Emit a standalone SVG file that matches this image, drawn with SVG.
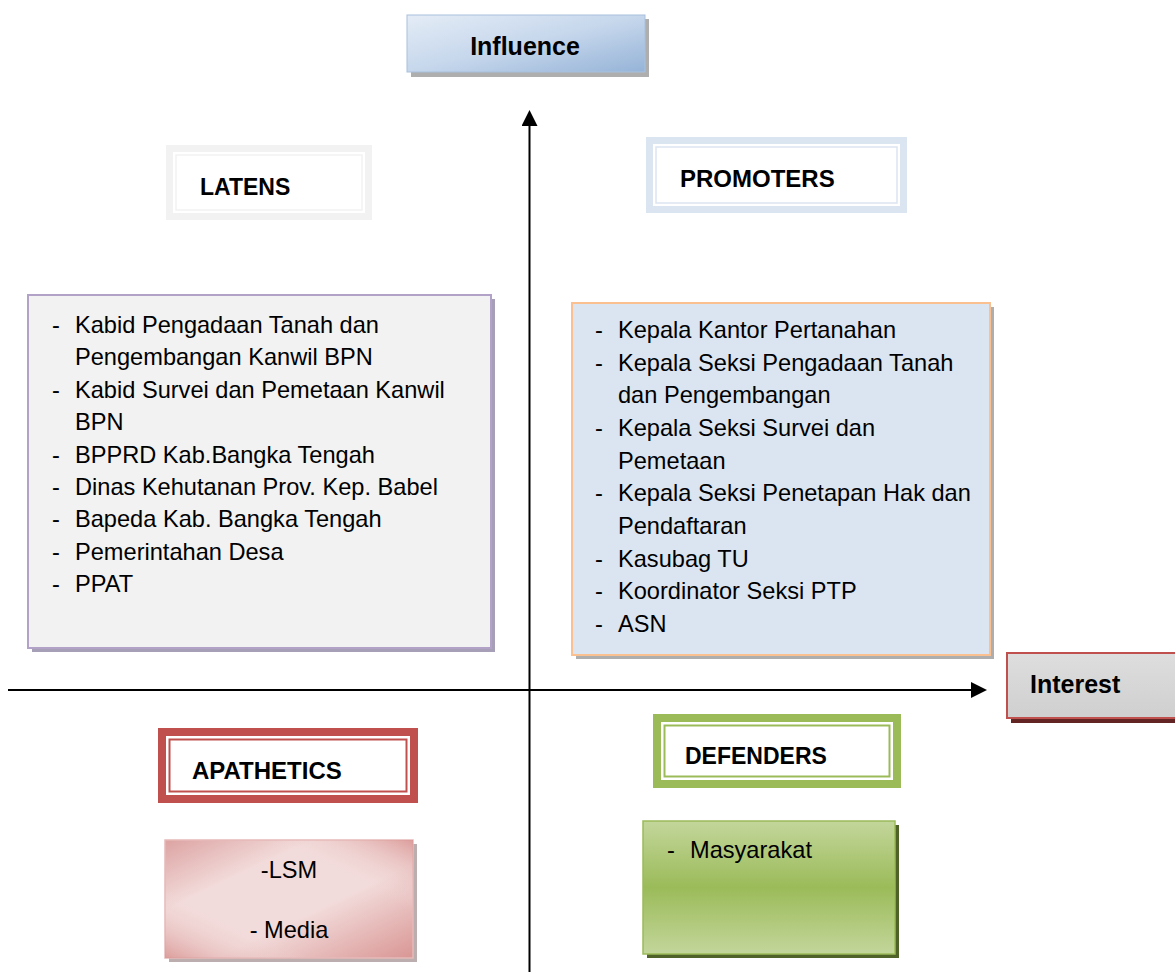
<svg xmlns="http://www.w3.org/2000/svg" width="1175" height="972" viewBox="0 0 1175 972">
<style>
.t{font-family:"Liberation Sans",Arial,sans-serif;font-size:23.6px;fill:#000}
.h{font-family:"Liberation Sans",Arial,sans-serif;font-size:23.5px;font-weight:bold;fill:#000}
.ax{stroke:#000;stroke-width:2;fill:none}
</style>
<defs>
<marker id="arr" viewBox="0 0 16 16" refX="1" refY="8" markerWidth="16" markerHeight="16" markerUnits="userSpaceOnUse" orient="auto">
<path d="M0,0 L16,8 L0,16 Z" fill="#000"/>
</marker>
<linearGradient id="gInf" x1="0" y1="0" x2="1" y2="1">
<stop offset="0" stop-color="#e4ecf6"/>
<stop offset="0.5" stop-color="#c6d7ec"/>
<stop offset="1" stop-color="#95b3d7"/>
</linearGradient>
<linearGradient id="gApa" x1="0" y1="0" x2="1" y2="1">
<stop offset="0" stop-color="#dca3a2"/>
<stop offset="0.3" stop-color="#f2dcdb"/>
<stop offset="0.6" stop-color="#f2dcdb"/>
<stop offset="1" stop-color="#d99694"/>
</linearGradient>
<linearGradient id="gApa2" x1="1" y1="0" x2="0" y2="1">
<stop offset="0" stop-color="#d99694" stop-opacity="0.9"/>
<stop offset="0.3" stop-color="#f2dcdb" stop-opacity="0"/>
<stop offset="0.7" stop-color="#f2dcdb" stop-opacity="0"/>
<stop offset="1" stop-color="#d99694" stop-opacity="0.9"/>
</linearGradient>
<linearGradient id="gDef" x1="0" y1="0" x2="0" y2="1">
<stop offset="0" stop-color="#c3d69b"/>
<stop offset="0.5" stop-color="#9bbb59"/>
<stop offset="1" stop-color="#c3d69b"/>
</linearGradient>
<linearGradient id="gInt" x1="0" y1="0" x2="0" y2="1">
<stop offset="0" stop-color="#dedede"/>
<stop offset="1" stop-color="#cfcfcf"/>
</linearGradient>
</defs>

<g id="connectors">
<line class="ax" x1="529.5" y1="972" x2="529.5" y2="125" marker-end="url(#arr)"/>
<line class="ax" x1="8" y1="690" x2="972" y2="690" marker-end="url(#arr)"/>
</g>

<g id="influence">
<rect x="411" y="19" width="238" height="58" fill="#8c8c8c" opacity="0.7"/>
<rect x="407" y="15" width="238" height="57" fill="url(#gInf)" stroke="#a9c0dd" stroke-width="1"/>
<text class="h" x="525" y="55" text-anchor="middle" style="font-size:25px">Influence</text>
</g>

<g id="latens-header">
<rect x="166" y="145" width="206" height="75" fill="#f2f2f2"/>
<rect x="173" y="152" width="192" height="61" fill="#fff"/>
<rect x="176" y="155" width="186" height="55" fill="none" stroke="#f2f2f2" stroke-width="1.5"/>
<text class="h" x="200" y="195" style="font-size:23px">LATENS</text>
</g>

<g id="promoters-header">
<rect x="646" y="137" width="261" height="76" fill="#dbe5f1"/>
<rect x="653" y="144" width="247" height="62" fill="#fff"/>
<rect x="656" y="147" width="241" height="56" fill="none" stroke="#dbe5f1" stroke-width="1.5"/>
<text class="h" x="680" y="187" style="font-size:24px">PROMOTERS</text>
</g>

<g id="latens-content">
<rect x="32" y="299" width="463" height="353" fill="#8a7fa0" opacity="0.75"/>
<rect x="28" y="295" width="463" height="353" fill="#f2f2f2" stroke="#b3a2c7" stroke-width="2"/>
<g class="t">
<text x="52" y="333">-</text><text x="75" y="333">Kabid Pengadaan Tanah dan</text>
<text x="75" y="365">Pengembangan Kanwil BPN</text>
<text x="52" y="398">-</text><text x="75" y="398">Kabid Survei dan Pemetaan Kanwil</text>
<text x="75" y="430">BPN</text>
<text x="52" y="463">-</text><text x="75" y="463">BPPRD Kab.Bangka Tengah</text>
<text x="52" y="495">-</text><text x="75" y="495">Dinas Kehutanan Prov. Kep. Babel</text>
<text x="52" y="527">-</text><text x="75" y="527">Bapeda Kab. Bangka Tengah</text>
<text x="52" y="560">-</text><text x="75" y="560">Pemerintahan Desa</text>
<text x="52" y="592">-</text><text x="75" y="592">PPAT</text>
</g>
</g>

<g id="promoters-content">
<rect x="576" y="307" width="418" height="352" fill="#8c8c8c" opacity="0.7"/>
<rect x="572" y="303" width="418" height="352" fill="#dbe5f1" stroke="#fac090" stroke-width="2"/>
<g class="t">
<text x="595" y="338">-</text><text x="618" y="338">Kepala Kantor Pertanahan</text>
<text x="595" y="371">-</text><text x="618" y="371">Kepala Seksi Pengadaan Tanah</text>
<text x="618" y="403">dan Pengembangan</text>
<text x="595" y="436">-</text><text x="618" y="436">Kepala Seksi Survei dan</text>
<text x="618" y="469">Pemetaan</text>
<text x="595" y="501">-</text><text x="618" y="501">Kepala Seksi Penetapan Hak dan</text>
<text x="618" y="534">Pendaftaran</text>
<text x="595" y="567">-</text><text x="618" y="567">Kasubag TU</text>
<text x="595" y="599">-</text><text x="618" y="599">Koordinator Seksi PTP</text>
<text x="595" y="632">-</text><text x="618" y="632">ASN</text>
</g>
</g>

<g id="interest">
<rect x="1011" y="657" width="170" height="66" fill="#632523"/>
<rect x="1007" y="653" width="175" height="65" fill="url(#gInt)" stroke="#c0504d" stroke-width="2"/>
<text class="h" x="1030" y="693" style="font-size:25px">Interest</text>
</g>

<g id="apathetics-header">
<rect x="158" y="728" width="260" height="75" fill="#c0504d"/>
<rect x="166" y="736" width="244" height="59" fill="#fff"/>
<rect x="169.5" y="739.5" width="237" height="52" fill="none" stroke="#c0504d" stroke-width="2"/>
<text class="h" x="192" y="779" style="font-size:24px">APATHETICS</text>
</g>

<g id="defenders-header">
<rect x="653" y="714" width="248" height="74" fill="#9bbb59"/>
<rect x="661" y="722" width="232" height="58" fill="#fff"/>
<rect x="664.5" y="725.5" width="225" height="51" fill="none" stroke="#9bbb59" stroke-width="2"/>
<text class="h" x="685" y="764" style="font-size:23px">DEFENDERS</text>
</g>

<g id="apathetics-content">
<rect x="169" y="844" width="248" height="118" fill="#a08c8c" opacity="0.7"/>
<rect x="165" y="840" width="248" height="118" fill="url(#gApa)" stroke="#e6b9b8" stroke-width="1.5"/>
<rect x="165" y="840" width="248" height="118" fill="url(#gApa2)"/>
<text class="t" x="289" y="878" text-anchor="middle">-LSM</text>
<text class="t" x="289" y="938" text-anchor="middle">- Media</text>
</g>

<g id="defenders-content">
<rect x="647" y="825" width="252" height="133" fill="#4f6228"/>
<rect x="643" y="821" width="252" height="133" fill="url(#gDef)" stroke="#9bbb59" stroke-width="1.5"/>
<text class="t" x="667" y="858">-</text><text class="t" x="690" y="858">Masyarakat</text>
</g>
</svg>
